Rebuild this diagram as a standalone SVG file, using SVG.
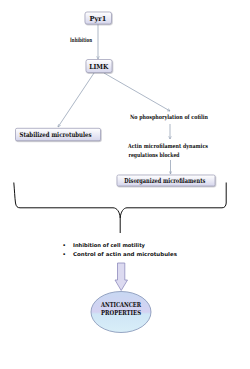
<svg xmlns="http://www.w3.org/2000/svg" width="250" height="369" viewBox="0 0 250 369">
<defs>
<linearGradient id="boxg" x1="0" y1="0" x2="0" y2="1">
<stop offset="0" stop-color="#ffffff"/>
<stop offset="1" stop-color="#d6d6ec"/>
</linearGradient>
<linearGradient id="ellg" x1="0" y1="0" x2="0" y2="1">
<stop offset="0" stop-color="#c8d8f2"/>
<stop offset="0.5" stop-color="#d4d2f2"/>
<stop offset="0.55" stop-color="#cfe6f6"/>
<stop offset="1" stop-color="#d9eef8"/>
</linearGradient>
<marker id="ah" viewBox="0 0 10 10" refX="9" refY="5" markerWidth="5" markerHeight="5" orient="auto">
<path d="M1,1 L9,5 L1,9" fill="none" stroke="#8a98ae" stroke-width="1.4"/>
</marker>
<filter id="sh" x="-10%" y="-20%" width="130%" height="160%">
<feDropShadow dx="0.6" dy="0.8" stdDeviation="0.5" flood-color="#707080" flood-opacity="0.5"/>
</filter>
</defs>
<style>
.box{fill:url(#boxg);stroke:#a4a4bc;stroke-width:0.8;filter:url(#sh)}
.bt{font-family:"DejaVu Serif","Liberation Serif",serif;font-weight:bold;fill:#111;font-size:6.8px}
.pt{font-family:"DejaVu Serif","Liberation Serif",serif;font-weight:bold;fill:#111;font-size:5.8px}
.bl{font-family:"DejaVu Sans","Liberation Sans",sans-serif;font-weight:bold;fill:#111;font-size:5.2px}
.con{stroke:#8a98ae;stroke-width:0.7;fill:none}
</style>
<g id="connectors">
<line class="con" x1="98" y1="24" x2="98" y2="59" marker-end="url(#ah)"/>
<line class="con" x1="94" y1="73" x2="58" y2="127" marker-end="url(#ah)"/>
<line class="con" x1="104" y1="73" x2="170" y2="111" marker-end="url(#ah)"/>
<line class="con" x1="170" y1="124" x2="170" y2="139" marker-end="url(#ah)"/>
<line class="con" x1="170.5" y1="160" x2="170.5" y2="174" marker-end="url(#ah)"/>
<path d="M117.5,263 H124.8 V280 H127.5 L121.2,290.5 L115,280 H117.5 Z" fill="#dcdaf0" stroke="#8e8cbc" stroke-width="0.8"/>
</g>
<g id="brace">
<path d="M13.8,182.5 C14.5,190 14.8,198 15.5,203 C16,206.5 17.5,207.8 20,207.8 H113 C117,207.8 119.8,212 120.2,218 V233 M120.2,218 C120.6,212 123.5,207.8 127,207.8 H222 C224.6,207.8 226,206 226.2,203 V182.5" fill="none" stroke="#111" stroke-width="1"/>
</g>
<g id="pyr1">
<rect class="box" x="85" y="12" width="26.5" height="12" rx="2"/>
<text class="bt" x="89.5" y="20.8" font-size="7.5" textLength="17" lengthAdjust="spacingAndGlyphs">Pyr1</text>
</g>
<g id="inhibition">
<text class="pt" x="70" y="42" font-size="4.6" textLength="22" lengthAdjust="spacingAndGlyphs">Inhibition</text>
</g>
<g id="limk">
<rect class="box" x="86" y="59.5" width="26" height="13" rx="2"/>
<text class="bt" x="89.3" y="68.8" font-size="7.2" textLength="19" lengthAdjust="spacingAndGlyphs">LIMK</text>
</g>
<g id="stabilized">
<rect class="box" x="15.5" y="128.3" width="85" height="12.4" rx="1.5"/>
<text class="bt" x="19.5" y="137" textLength="72" lengthAdjust="spacingAndGlyphs">Stabilized microtubules</text>
</g>
<g id="cofilin">
<text class="pt" x="130" y="119" textLength="78" lengthAdjust="spacingAndGlyphs">No phosphorylation of cofilin</text>
</g>
<g id="actin">
<text class="pt" x="128" y="147.5" textLength="80" lengthAdjust="spacingAndGlyphs">Actin microfilament dynamics</text>
<text class="pt" x="128.5" y="156.5" textLength="51" lengthAdjust="spacingAndGlyphs">regulations blocked</text>
</g>
<g id="disorganized">
<rect class="box" x="117" y="175" width="98" height="11" rx="1.5"/>
<text class="bt" x="124.3" y="183" textLength="81" lengthAdjust="spacingAndGlyphs">Disorganized microfilaments</text>
</g>
<g id="bullets">
<text class="bl" x="62.5" y="247">•</text>
<text class="bl" x="73" y="247" textLength="72" lengthAdjust="spacingAndGlyphs">Inhibition of cell motility</text>
<text class="bl" x="62.5" y="256">•</text>
<text class="bl" x="73" y="256" textLength="104" lengthAdjust="spacingAndGlyphs">Control of actin and microtubules</text>
</g>
<g id="anticancer">
<ellipse cx="121" cy="312" rx="30" ry="20.5" fill="url(#ellg)" stroke="#8090b4" stroke-width="0.8"/>
<text class="bt" x="121" y="306.5" text-anchor="middle" fill="#1a1a44" textLength="40" lengthAdjust="spacingAndGlyphs">ANTICANCER</text>
<text class="bt" x="121" y="315" text-anchor="middle" fill="#1a1a44" textLength="40" lengthAdjust="spacingAndGlyphs">PROPERTIES</text>
</g>
</svg>
